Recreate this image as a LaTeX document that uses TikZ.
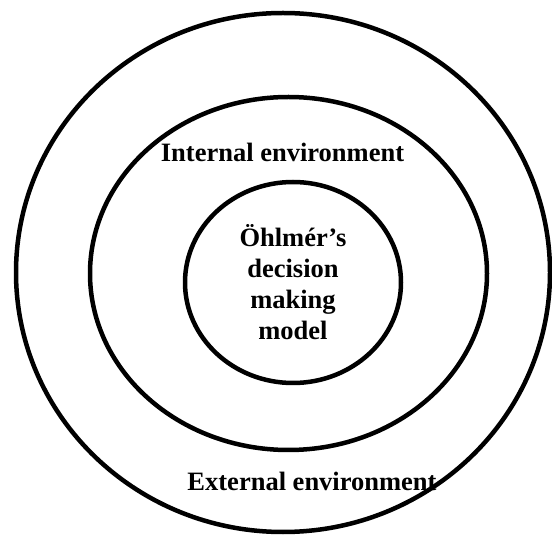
\documentclass[tikz,border=0pt]{standalone}
\usepackage{fontspec}
\setmainfont{Liberation Serif}
\usetikzlibrary{shapes.geometric, positioning}

\begin{document}
\begin{tikzpicture}[x=1pt, y=1pt, line width=4.5pt,
  ring/.style={ellipse, draw, inner sep=0pt},
  label/.style={inner sep=0pt, font=\fontsize{26.5}{31}\selectfont\bfseries, align=center}]
	\useasboundingbox (0,0) rectangle (552,536);
	\node (outer) [ring, minimum width=534pt, minimum height=519pt] at (283,263.5) {};
	\node (middle) [ring, minimum width=397pt, minimum height=353pt] at (288.5,262.5) {};
	\node (inner) [ring, label, minimum width=216pt, minimum height=201pt] at (293,253.5)
		{Öhlmér’s\\decision\\making\\model};
	\node (int) [label, above=16pt of inner, xshift=-10.5pt] {Internal environment};
	\node (ext) [label, below=17.5pt of middle, xshift=23.5pt] {External environment};
\end{tikzpicture}
\end{document}
